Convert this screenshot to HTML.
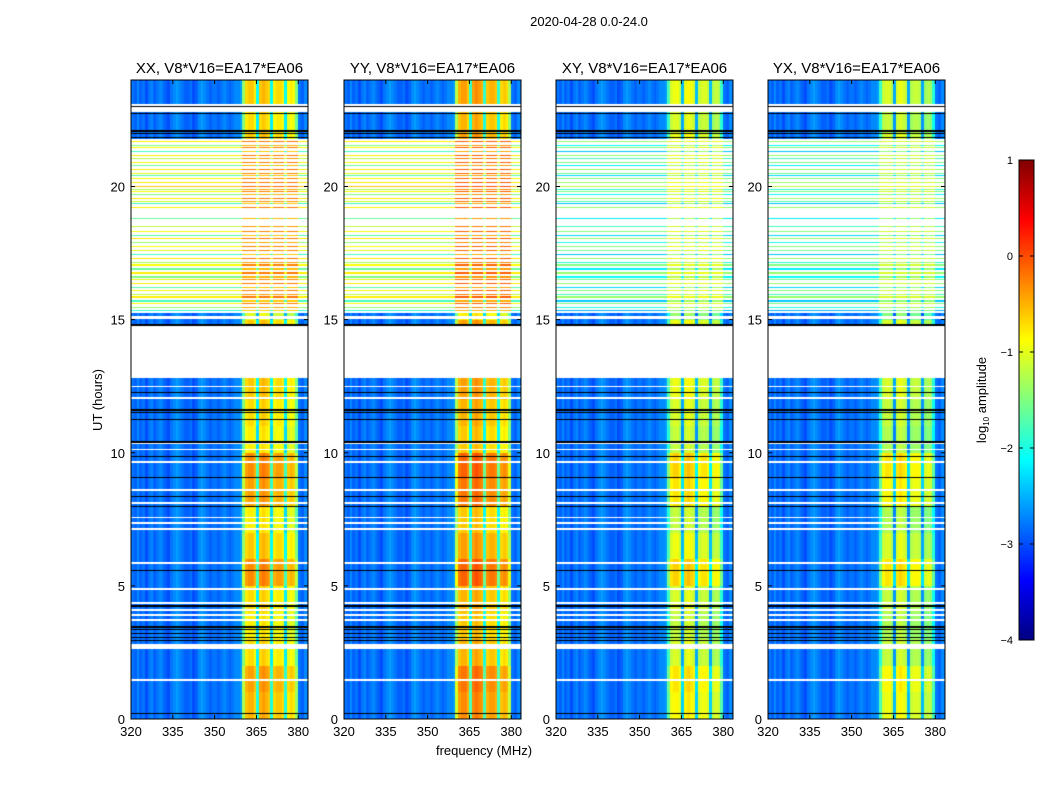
<!DOCTYPE html>
<html><head><meta charset="utf-8">
<style>
body{margin:0;background:#fff;}
#wrap{position:relative;width:1050px;height:800px;overflow:hidden;background:#fff;font-family:"Liberation Sans",sans-serif;}
canvas{position:absolute;}
svg{position:absolute;left:0;top:0;}
</style></head>
<body>
<div id="wrap">
<canvas id="c0" width="177" height="639" style="left:131px;top:80px"></canvas>
<canvas id="c1" width="177" height="639" style="left:344px;top:80px"></canvas>
<canvas id="c2" width="177" height="639" style="left:556px;top:80px"></canvas>
<canvas id="c3" width="177" height="639" style="left:768px;top:80px"></canvas>
<svg id="ov" width="1050" height="800">
<defs><linearGradient id="jet" x1="0" y1="1" x2="0" y2="0">
<stop offset="0" stop-color="#000080"/><stop offset="0.125" stop-color="#0000ff"/><stop offset="0.375" stop-color="#00ffff"/><stop offset="0.625" stop-color="#ffff00"/><stop offset="0.875" stop-color="#ff0000"/><stop offset="1" stop-color="#800000"/></linearGradient></defs>
<text x="589" y="26" font-size="13" text-anchor="middle">2020-04-28 0.0-24.0</text>
<text x="484" y="755" font-size="13" text-anchor="middle">frequency (MHz)</text>
<text transform="translate(102,400) rotate(-90)" font-size="13" text-anchor="middle">UT (hours)</text>
<rect x="1019" y="160" width="15" height="480" fill="url(#jet)" stroke="#000" stroke-width="1"/>
<text transform="translate(986,400) rotate(-90)" font-size="13" text-anchor="middle">log<tspan font-size="8" dy="3">10</tspan><tspan dy="-3"> amplitude</tspan></text>
<g id="g"></g>
</svg>
</div>
<script>
const panelTitles = ["XX, V8*V16=EA17*EA06","YY, V8*V16=EA17*EA06","XY, V8*V16=EA17*EA06","YX, V8*V16=EA17*EA06"];
const xTicks = [320,335,350,365,380];
const yTicks = [0,5,10,15,20];
const cbTicks = [1,0,-1,-2,-3,-4];
// per-MHz base log amplitude, 320..383
const freqBase = [-2.8,-2.9,-2.7,-2.9,-2.8,-3.0,-2.8,-2.7,-2.9,-2.8,
 -2.7,-2.8,-2.9,-3.0,-2.8,-2.7,-2.6,-2.7,-2.8,-2.9,
 -2.9,-2.8,-3.0,-2.9,-2.7,-2.6,-2.7,-2.8,-2.9,-2.8,
 -2.8,-2.9,-2.8,-2.7,-2.8,-2.9,-2.8,-2.7,-2.7,-2.6,
 -1.4,-0.7,-0.6,-0.6,-0.8,-2.1,-0.6,-0.5,-0.6,-0.7,
 -2.1,-0.8,-0.7,-0.7,-0.8,-2.1,-0.9,-0.8,-0.9,-1.5,
 -2.8,-2.9,-2.7,-2.8];
const bandMod = [0.1,0.2,-0.1,-0.2,-0.1,0.3,0.0,-0.2,0.2,0.3,-0.2,-0.1,0.0,0,0,-0.4,0,0,0,0,0,0,-0.1,0.0];
const bandOffset = [0.0,0.2,-0.35,-0.45];
const bgOffset = [0.0,0.0,0.0,0.0];
const dataStart = [0,14.85,21.8,23.1];
const dataEnd = [12.8,15.25,22.8,24];
const whiteLines = [12.49,12.07,10.35,10.12,9.64,8.59,8.1,7.57,7.35,7.12,5.85,4.87,4.35,4.09,3.9,3.71,2.66,2.72,2.77,1.46,15.05,15.1];
const blackLines = [12.26,11.6,11.5,11.25,10.4,9.86,9.07,8.36,7.99,5.59,4.24,3.45,3.35,3.2,3.05,2.96,0.2,14.8,21.85,22.0,22.08,22.75,23.0];
const stripeTimes = [21.7,21.55,21.45,21.3,21.15,21.05,20.9,20.8,20.65,20.5,20.4,20.3,20.15,20.0,19.9,19.8,19.7,19.55,19.45,19.35,19.2,18.8,18.5,18.3,18.15,18.05,17.9,17.75,17.6,17.45,17.3,17.15,17.05,16.9,16.75,16.6,16.5,16.35,16.2,16.1,15.95,15.85,15.7,15.6,15.45,15.35];
const stripeLevel = [-0.8,-1.5,-0.9,-1.8,-0.8,-1.2,-0.9,-1.6,-0.8,-1.0,-1.7,-0.9,-0.8,-0.6,-1.3,-0.9,-1.5,-0.8,-1.1,-1.8,-0.8,-1.6,-1.2,-0.9,-1.7,-0.8,-1.4,-0.9,-1.0,-1.8,-0.8,-1.3,-0.9,-1.6,-0.8,-1.5,-1.0,-0.8,-1.7,-0.9,-1.2,-0.8,-1.8,-0.9,-1.4,-1.9];
const stripePanelShift = [0.0,0.0,-0.6,-0.6];
const stripeBand = [-0.3,-0.15,-0.8,-0.9];

const X0=[131,344,556,768], Y0=80, W=177, H=639, FMIN=320, FMAX=383.5, TMAX=24;
function xs(p,f){return X0[p]+(f-FMIN)/(FMAX-FMIN)*W;}
function ys(t){return Y0+H-(t/TMAX)*H;}
function jet(v){let t=Math.max(0,Math.min(1,(v+4)/5));
 function c(x){return Math.max(0,Math.min(1,1.5-Math.abs(4*t-x)));}
 return [c(3)*255,c(2)*255,c(1)*255];}
function near(arr,t,w){for(const a of arr){if(Math.abs(a-t)<w)return true;}return false;}
function nearIdx(arr,t,w){for(let i=0;i<arr.length;i++){if(Math.abs(arr[i]-t)<w)return i;}return -1;}
for(let p=0;p<4;p++){
 const ctx=document.getElementById('c'+p).getContext('2d');
 const img=ctx.createImageData(W,H);
 for(let y=0;y<H;y++){
  const t=TMAX*(1-(y+0.5)/H);
  let mode='white', si=-1;
  if(near(blackLines,t,0.025))mode='black';
  else if(near(whiteLines,t,0.035))mode='white';
  else{
   for(let i=0;i<dataStart.length;i++){if(t>=dataStart[i]&&t<dataEnd[i])mode='data';}
   if(mode!=='data'&&t>15.25&&t<21.8){si=nearIdx(stripeTimes,t,0.022);if(si>=0)mode='stripe';}
  }
  for(let x=0;x<W;x++){
   const f=FMIN+(x+0.5)/W*(FMAX-FMIN);
   const fi=Math.min(freqBase.length-1,Math.floor(f-FMIN));
   const band=freqBase[fi]>-2.5;
   let rgb;
   if(mode==='black')rgb=[0,0,0];
   else if(mode==='white')rgb=[255,255,255];
   else if(mode==='stripe'){
     const lvl=stripeLevel[si]+stripePanelShift[p];
     rgb=jet(band?(freqBase[fi]<-1.8?lvl:stripeBand[p]+0.4*(lvl+1)):lvl);
   }
   else{const v=freqBase[fi]+(band?bandMod[Math.floor(t)]+bandOffset[p]:bgOffset[p]);rgb=jet(v);}
   const k=(y*W+x)*4;img.data[k]=rgb[0];img.data[k+1]=rgb[1];img.data[k+2]=rgb[2];img.data[k+3]=255;
  }
 }
 ctx.putImageData(img,0,0);
}
const NS='http://www.w3.org/2000/svg', g=document.getElementById('g');
function mk(tag,attrs,txt){const e=document.createElementNS(NS,tag);for(const k in attrs)e.setAttribute(k,attrs[k]);if(txt!==undefined)e.textContent=txt;g.appendChild(e);return e;}
for(let p=0;p<4;p++){
 const fr=mk('rect',{x:X0[p],y:Y0,width:W,height:H,fill:'none',stroke:'#000','stroke-width':1});
 
 
 const tt=mk('text',{x:X0[p]+W/2,y:73,'font-size':15,'text-anchor':'middle'},panelTitles[p]);
 
 
 for(const f of xTicks){const x=xs(p,f);
  mk('line',{x1:x,x2:x,y1:Y0+H,y2:Y0+H-4,stroke:'#000'});
  mk('line',{x1:x,x2:x,y1:Y0,y2:Y0+4,stroke:'#000'});
  const l=mk('text',{x:x,y:Y0+H+17,'font-size':13,'text-anchor':'middle'},f);
  
  
 }
 for(const t of yTicks){const y=ys(t);
  mk('line',{x1:X0[p],x2:X0[p]+4,y1:y,y2:y,stroke:'#000'});
  mk('line',{x1:X0[p]+W,x2:X0[p]+W-4,y1:y,y2:y,stroke:'#000'});
  const l=mk('text',{x:X0[p]-6,y:y+5,'font-size':13,'text-anchor':'end'},t);
  
  
 }
}
for(const v of cbTicks){const y=640-(v+4)/5*480;
 mk('line',{x1:1019,x2:1023,y1:y,y2:y,stroke:'#000'});
 mk('line',{x1:1034,x2:1030,y1:y,y2:y,stroke:'#000'});
 const l=mk('text',{x:1013,y:y+4,'font-size':11,'text-anchor':'end'},v<0?'\u2212'+(-v):v);
 
 
}
</script>
</body></html>
